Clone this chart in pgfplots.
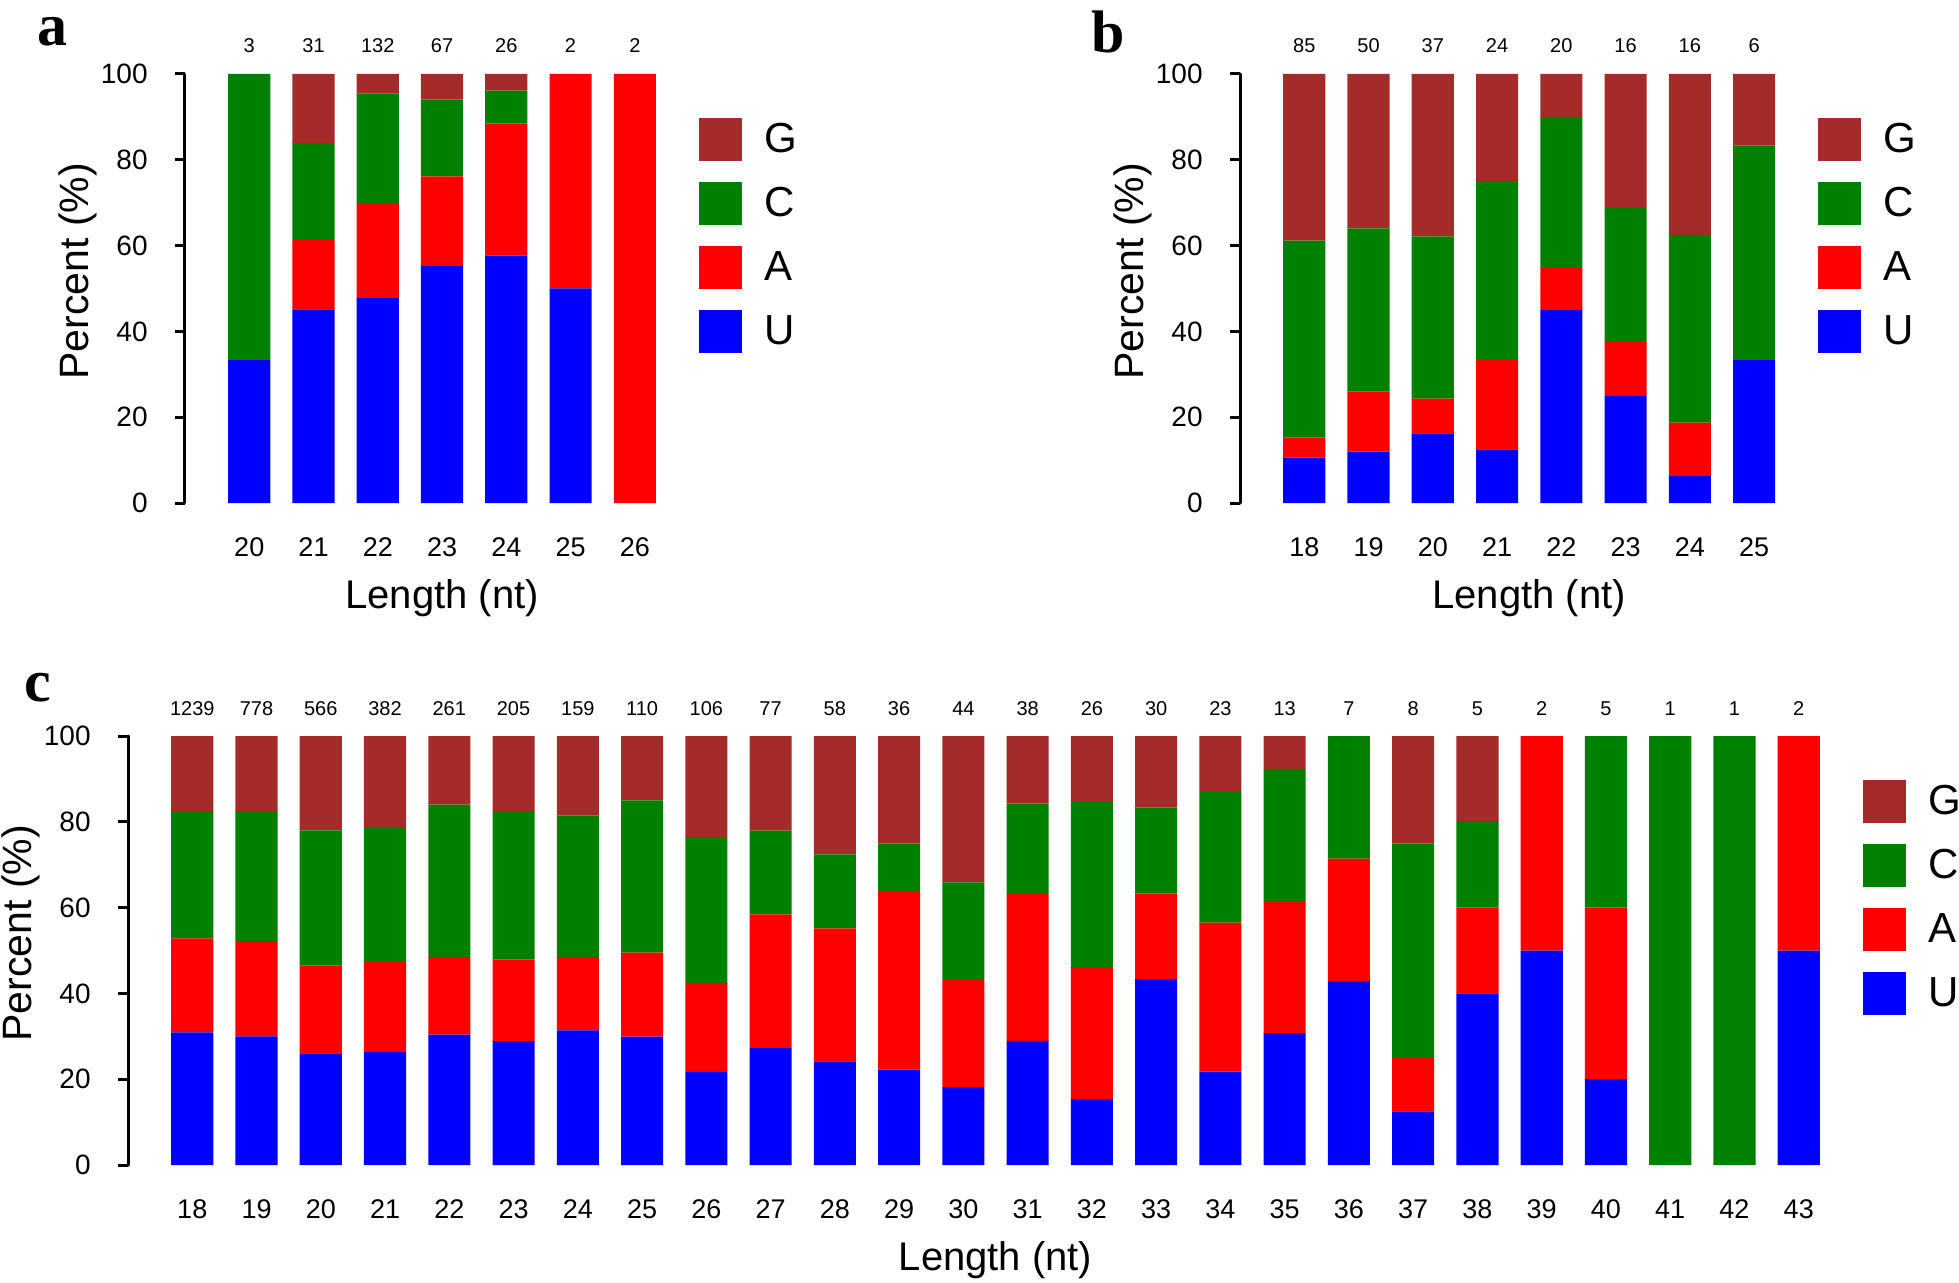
\documentclass[border=0pt]{standalone}
\usepackage{fontspec}
\setmainfont{Liberation Sans}
\newfontfamily\tnr{Liberation Serif}
\usepackage{pgfplots}
\usepackage{pgfplotstable}
\pgfplotsset{compat=1.18}
\definecolor{cG}{RGB}{165,42,42}
\definecolor{cC}{RGB}{0,128,0}
\definecolor{cA}{RGB}{255,0,0}
\definecolor{cU}{RGB}{0,0,255}

\pgfplotstableread{
len U A C G n
20 33.33 0 66.67 0 3
21 45.16 16.13 22.58 16.13 31
22 47.73 21.97 25.76 4.54 132
23 55.22 20.90 17.91 5.97 67
24 57.69 30.77 7.69 3.85 26
25 50 50 0 0 2
26 0 100 0 0 2
}\dataA

\pgfplotstableread{
len U A C G n
18 10.59 4.71 45.88 38.82 85
19 12 14 38 36 50
20 16.22 8.11 37.84 37.83 37
21 12.5 20.83 41.67 25 24
22 45 10 35 10 20
23 25 12.5 31.25 31.25 16
24 6.25 12.5 43.75 37.5 16
25 33.33 0 50 16.67 6
}\dataB

\pgfplotstableread{
len U A C G n
18 30.9 21.9 29.7 17.5 1239
19 30.0 22.0 30.5 17.5 778
20 26.0 20.5 31.5 22.0 566
21 26.4 21.1 31.0 21.5 382
22 30.4 18.1 35.5 16.0 261
23 28.9 19.0 34.6 17.5 205
24 31.4 17.1 33.0 18.5 159
25 29.9 19.6 35.5 15.0 110
26 21.70 20.75 33.96 23.59 106
27 27.27 31.17 19.48 22.08 77
28 24.14 31.03 17.24 27.59 58
29 22.22 41.67 11.11 25.00 36
30 18.18 25.00 22.73 34.09 44
31 28.95 34.21 21.05 15.79 38
32 15.38 30.77 38.46 15.39 26
33 43.33 20.00 20.00 16.67 30
34 21.74 34.78 30.43 13.05 23
35 30.77 30.77 30.77 7.69 13
36 42.86 28.57 28.57 0 7
37 12.5 12.5 50 25 8
38 40 20 20 20 5
39 50 50 0 0 2
40 20 40 40 0 5
41 0 0 100 0 1
42 0 0 100 0 1
43 50 50 0 0 2
}\dataC

\tikzset{letter/.style={font=\tnr\bfseries\fontsize{30}{30}\selectfont, inner sep=0pt}}

\pgfplotsset{
  sq legend/.style={legend image code/.code={\fill[##1] (0pt,-10.75pt) rectangle (21.5pt,10.75pt);}},
  panel/.style={
    scale only axis, height=214.5pt,
    ybar stacked, bar width=0.655, ymin=0, ymax=100,
    clip=false,
    axis lines*=left,
    x axis line style={draw=none},
    y axis line style={-, line width=1.5pt, line cap=round},
    ytick={0,20,...,100},
    xtick style={draw=none},
    ytick style={line width=1.5pt, black},
    tick align=outside, major tick length=5pt,
    /pgf/number format/assume math mode=true,
    yticklabel style={anchor=east, inner sep=0pt, xshift=-13.5pt, font=\fontsize{14}{14}\selectfont},
    xticklabel style={anchor=north, inner sep=0pt, yshift=-12.25pt, font=\fontsize{13.5}{13.5}\selectfont},
    xlabel={Length (nt)},
    xlabel style={at={(axis description cs:0.5,0)}, anchor=center, yshift=-47.5pt, font=\fontsize{20}{20}\selectfont},
    ylabel={Percent (\%)},
    ylabel style={at={([xshift=-53.5pt]axis description cs:0,0.54)}, anchor=center, font=\fontsize{20.5}{20.5}\selectfont},
    reverse legend,
    legend cell align=left,
    legend style={at={(axis description cs:1,1)}, anchor=north west, yshift=-22pt,
      draw=none, fill=none, inner sep=0pt, outer sep=0pt,
      row sep=10.5pt, column sep=11pt,
      nodes={inner sep=0pt, anchor=west, font=\fontsize{21}{21}\selectfont}},
  },
  counts/.style={
    scale only axis, height=214.5pt, ymin=0, ymax=100,
    axis x line*=top, axis y line=none,
    x axis line style={draw=none}, xtick style={draw=none},
    /pgf/number format/assume math mode=true,
    xticklabel style={anchor=base, inner sep=0pt, yshift=10.5pt, font=\fontsize{10}{10}\selectfont},
  },
}

\begin{document}
\begin{tikzpicture}
\useasboundingbox (0,0) rectangle (979.5pt,641pt);

% panel a
\begin{axis}[panel, at={(92.5pt,389.5pt)}, anchor=south west,
  width=257.04pt, xmin=19, xmax=27, xtick={20,...,26}]
\addplot[fill=cU, draw=none, sq legend] table[x=len, y=U]{\dataA};
\addplot[fill=cA, draw=none, sq legend] table[x=len, y=A]{\dataA};
\addplot[fill=cC, draw=none, sq legend] table[x=len, y=C]{\dataA};
\addplot[fill=cG, draw=none, sq legend] table[x=len, y=G]{\dataA};
\legend{U,A,C,G}
\end{axis}
\begin{axis}[counts, at={(92.5pt,389.5pt)}, anchor=south west,
  width=257.04pt, xmin=19, xmax=27, xtick={20,...,26},
  xticklabels from table={\dataA}{n}]
\addplot[draw=none, mark=none] table[x=len, y=U]{\dataA};
\end{axis}

% panel b
\begin{axis}[panel, at={(620pt,389.5pt)}, anchor=south west,
  width=289.17pt, xmin=17, xmax=26, xtick={18,...,25}]
\addplot[fill=cU, draw=none, sq legend] table[x=len, y=U]{\dataB};
\addplot[fill=cA, draw=none, sq legend] table[x=len, y=A]{\dataB};
\addplot[fill=cC, draw=none, sq legend] table[x=len, y=C]{\dataB};
\addplot[fill=cG, draw=none, sq legend] table[x=len, y=G]{\dataB};
\legend{U,A,C,G}
\end{axis}
\begin{axis}[counts, at={(620pt,389.5pt)}, anchor=south west,
  width=289.17pt, xmin=17, xmax=26, xtick={18,...,25},
  xticklabels from table={\dataB}{n}]
\addplot[draw=none, mark=none] table[x=len, y=U]{\dataB};
\end{axis}

% panel c
\begin{axis}[panel, at={(64pt,58.5pt)}, anchor=south west,
  width=867.5pt, xmin=17, xmax=44, xtick={18,...,43}]
\addplot[fill=cU, draw=none, sq legend] table[x=len, y=U]{\dataC};
\addplot[fill=cA, draw=none, sq legend] table[x=len, y=A]{\dataC};
\addplot[fill=cC, draw=none, sq legend] table[x=len, y=C]{\dataC};
\addplot[fill=cG, draw=none, sq legend] table[x=len, y=G]{\dataC};
\legend{U,A,C,G}
\end{axis}
\begin{axis}[counts, at={(64pt,58.5pt)}, anchor=south west,
  width=867.5pt, xmin=17, xmax=44, xtick={18,...,43},
  xticklabels from table={\dataC}{n}]
\addplot[draw=none, mark=none] table[x=len, y=U]{\dataC};
\end{axis}

\node[letter] at (26.25pt,625pt) {a};
\node[letter] at (554pt,625pt) {b};
\node[letter] at (19pt,297pt) {c};
\end{tikzpicture}
\end{document}
